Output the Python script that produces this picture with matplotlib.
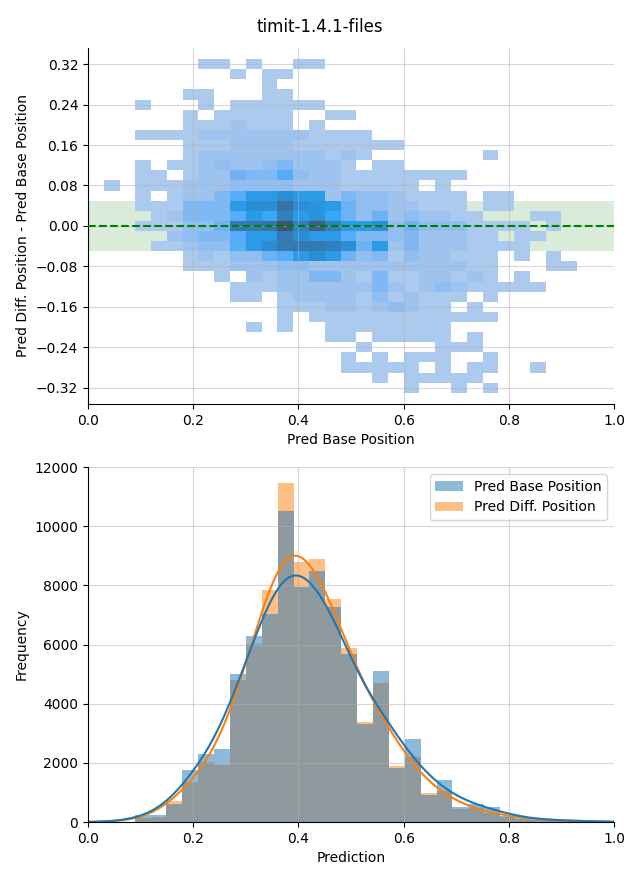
import numpy as np
import matplotlib
matplotlib.use('Agg')
import matplotlib.pyplot as plt
from matplotlib.colors import ListedColormap, to_rgba
from seaborn.external import husl

# 2D histogram: counts per cell, rows from top (0.32) to bottom (-0.32)
grid_x0, grid_dx = 0.03, 0.03
grid_y0, grid_dy = -0.33, 0.02
pair_counts = [
    [0,0,0,0,0, 0,1,1,0,1, 0,0,1,1,0, 0,0,0,0,0, 0,0,0,0,0, 0,0,0,0,0],
    [0,0,0,0,0, 0,0,0,1,0, 1,1,0,0,0, 0,0,0,0,0, 0,0,0,0,0, 0,0,0,0,0],
    [0,0,0,0,0, 0,0,0,0,0, 1,0,0,0,0, 0,0,0,0,0, 0,0,0,0,0, 0,0,0,0,0],
    [0,0,0,0,0, 1,1,0,0,0, 1,1,0,0,0, 0,0,0,0,0, 0,0,0,0,0, 0,0,0,0,0],
    [0,0,1,0,0, 0,1,0,1,1, 1,1,1,1,0, 0,0,0,0,0, 0,0,0,0,0, 0,0,0,0,0],
    [0,0,0,0,0, 1,0,1,1,1, 1,1,0,0,1, 1,0,0,0,0, 0,0,0,0,0, 0,0,0,0,0],
    [0,0,0,0,0, 1,1,1,2,1, 1,1,0,1,0, 0,0,0,0,0, 0,0,0,0,0, 0,0,0,0,0],
    [0,0,1,1,1, 1,2,2,2,2, 2,2,2,1,1, 1,1,0,0,0, 0,0,0,0,0, 0,0,0,0,0],
    [0,0,0,0,0, 1,1,1,2,2, 2,2,1,1,1, 1,1,1,1,0, 0,0,0,0,0, 0,0,0,0,0],
    [0,0,0,0,0, 1,2,2,2,2, 2,2,2,2,1, 2,1,0,0,0, 0,0,0,0,1, 0,0,0,0,0],
    [0,0,1,0,1, 1,2,3,2,2, 3,4,2,2,2, 1,0,1,1,0, 0,0,0,0,0, 0,0,0,0,0],
    [0,0,1,1,0, 1,2,2,5,4, 4,6,3,2,2, 1,1,1,1,1, 1,1,1,0,0, 0,0,0,0,0],
    [1,0,1,1,1, 2,2,2,3,3, 3,3,2,2,2, 1,1,1,1,1, 0,1,0,0,0, 0,0,0,0,0],
    [0,0,1,0,1, 2,2,4,6,9, 9,11,9,9,2, 4,3,3,2,1, 1,1,1,0,1, 1,0,0,0,0],
    [0,0,1,1,1, 4,4,4,9,11, 11,15,11,10,9, 5,3,3,2,2, 1,1,1,0,1, 1,0,0,0,0],
    [0,0,0,1,2, 4,4,4,6,9, 7,13,9,10,7, 5,3,5,2,3, 2,2,1,1,0, 0,0,1,1,0],
    [0,0,1,1,1, 3,3,5,14,14, 15,20,13,18,13, 9,9,11,3,5, 3,3,3,1,1, 1,1,0,1,0],
    [0,0,0,0,2, 3,4,4,6,9, 9,14,11,9,9, 6,4,4,3,4, 2,2,2,1,1, 0,1,1,0,0],
    [0,0,0,1,1, 2,3,3,6,9, 11,14,14,14,13, 11,5,9,2,4, 2,2,2,1,1, 1,1,0,0,0],
    [0,0,0,0,0, 1,2,1,3,3, 5,6,9,11,9, 5,3,4,1,3, 2,2,1,1,1, 0,1,0,1,0],
    [0,0,0,0,0, 1,1,1,2,2, 2,3,3,2,2, 2,2,2,2,2, 2,2,2,1,1, 0,0,0,1,1],
    [0,0,0,0,0, 0,0,1,0,2, 1,2,2,4,4, 2,1,4,1,1, 2,2,1,2,1, 0,1,0,0,0],
    [0,0,0,0,0, 0,0,0,1,1, 1,2,2,2,2, 2,2,4,2,1, 2,3,2,1,1, 1,1,1,0,0],
    [0,0,0,0,0, 0,0,0,1,1, 0,1,2,2,2, 2,1,3,1,2, 1,1,1,0,1, 0,0,0,0,0],
    [0,0,0,0,0, 0,0,0,0,0, 0,1,1,1,2, 2,1,2,3,2, 1,1,0,1,0, 0,0,0,0,0],
    [0,0,0,0,0, 0,0,0,0,0, 0,1,0,1,1, 1,1,1,1,1, 1,1,1,1,1, 0,0,0,0,0],
    [0,0,0,0,0, 0,0,0,0,1, 0,1,0,0,1, 1,1,1,1,1, 1,1,0,0,0, 0,0,0,0,0],
    [0,0,0,0,0, 0,0,0,0,0, 0,0,0,0,1, 1,0,1,1,1, 1,1,0,1,0, 0,0,0,0,0],
    [0,0,0,0,0, 0,0,0,0,0, 0,0,0,0,0, 0,1,0,0,0, 0,1,1,1,0, 0,0,0,0,0],
    [0,0,0,0,0, 0,0,0,0,0, 0,0,0,0,0, 1,0,1,0,1, 1,1,0,0,1, 0,0,0,0,0],
    [0,0,0,0,0, 0,0,0,0,0, 0,0,0,0,0, 1,1,1,1,1, 0,1,0,1,1, 0,0,1,0,0],
    [0,0,0,0,0, 0,0,0,0,0, 0,0,0,0,0, 0,0,1,0,1, 1,1,1,1,0, 0,0,0,0,0],
    [0,0,0,0,0, 0,0,0,0,0, 0,0,0,0,0, 0,0,0,0,1, 0,0,1,0,1, 0,0,0,0,0],
]

# 1D histograms
hist_x0, hist_dx = 0.0887, 0.0302
base_counts = [220, 240, 620, 1750, 2290, 2460, 5020, 6280, 7030, 10510,
               7940, 8480, 7270, 5680, 3310, 5100, 1840, 2800, 920, 1420,
               520, 600, 500, 200, 130, 80, 60, 40, 30, 20]
diff_counts = [150, 180, 700, 1360, 2040, 1930, 4800, 6020, 7840, 11460,
               8790, 8890, 7540, 5880, 3380, 4700, 1900, 2210, 990, 1050,
               450, 460, 300, 170, 110, 100, 80, 20, 10, 5]
kde_bw = 0.043

# sequential colormap from C0, same recipe seaborn uses for 2D histograms
r, g, b, _ = to_rgba('C0')
h, s, _ = husl.rgb_to_husl(r, g, b)
xx = np.linspace(-1, 1, int(1.15 * 256))[:256]
ramp = np.zeros((256, 3))
ramp[:, 0] = h
ramp[:, 1] = s * np.cos(xx)
ramp[:, 2] = np.linspace(35, 80, 256)
cmap = ListedColormap(np.clip([husl.husl_to_rgb(*hsl) for hsl in ramp], 0, 1)[::-1])

fig = plt.figure(figsize=(6.4, 8.8), dpi=100)
fig.suptitle('timit-1.4.1-files', y=0.980, fontsize=12)
ax1 = fig.add_axes([0.1375, 0.541, 0.822, 0.4045])
ax2 = fig.add_axes([0.1375, 0.0659, 0.822, 0.4034])

# top: joint histogram
grid = np.array(pair_counts, dtype=float)[::-1]
xe = grid_x0 + grid_dx * np.arange(grid.shape[1] + 1)
ye = grid_y0 + grid_dy * np.arange(grid.shape[0] + 1)
ax1.axhspan(-0.05, 0.05, color='green', alpha=0.15, lw=0, zorder=0.5)
ax1.pcolormesh(xe, ye, np.ma.masked_less_equal(grid, 0), cmap=cmap, zorder=1)
ax1.axhline(0, color='green', ls='--', lw=1.5, zorder=3)
ax1.set_xlim(0, 1)
ax1.set_ylim(-0.352, 0.352)
ax1.set_yticks(np.round(np.arange(-0.32, 0.33, 0.08), 2))
ax1.set_xlabel('Pred Base Position')
ax1.set_ylabel('Pred Diff. Position - Pred Base Position')
ax1.grid(True, alpha=0.5)

# bottom: overlapping histograms with kde
edges = hist_x0 + hist_dx * np.arange(len(base_counts) + 1)
centers = edges[:-1] + hist_dx / 2
xs = np.linspace(0, 1, 400)


def smooth(counts):
    counts = np.asarray(counts, dtype=float)
    z = (xs[:, None] - centers[None, :]) / kde_bw
    k = np.exp(-0.5 * z ** 2) / (kde_bw * np.sqrt(2 * np.pi))
    return (k * counts[None, :]).sum(axis=1) * hist_dx


ax2.bar(edges[:-1], diff_counts, width=hist_dx, align='edge', color='C1',
        alpha=0.5, lw=0, label='Pred Diff. Position')
ax2.bar(edges[:-1], base_counts, width=hist_dx, align='edge', color='C0',
        alpha=0.5, lw=0, label='Pred Base Position')
ax2.plot(xs, smooth(diff_counts), color='C1', lw=1.5)
ax2.plot(xs, smooth(base_counts), color='C0', lw=1.5)
ax2.set_xlim(0, 1)
ax2.set_ylim(0, 12000)
ax2.set_xlabel('Prediction')
ax2.set_ylabel('Frequency')
ax2.grid(True, alpha=0.5)
handles, labels = ax2.get_legend_handles_labels()
ax2.legend(handles[::-1], labels[::-1], loc='upper right')

for ax in (ax1, ax2):
    ax.spines['top'].set_visible(False)
    ax.spines['right'].set_visible(False)

fig.savefig('out.png', dpi=100)
